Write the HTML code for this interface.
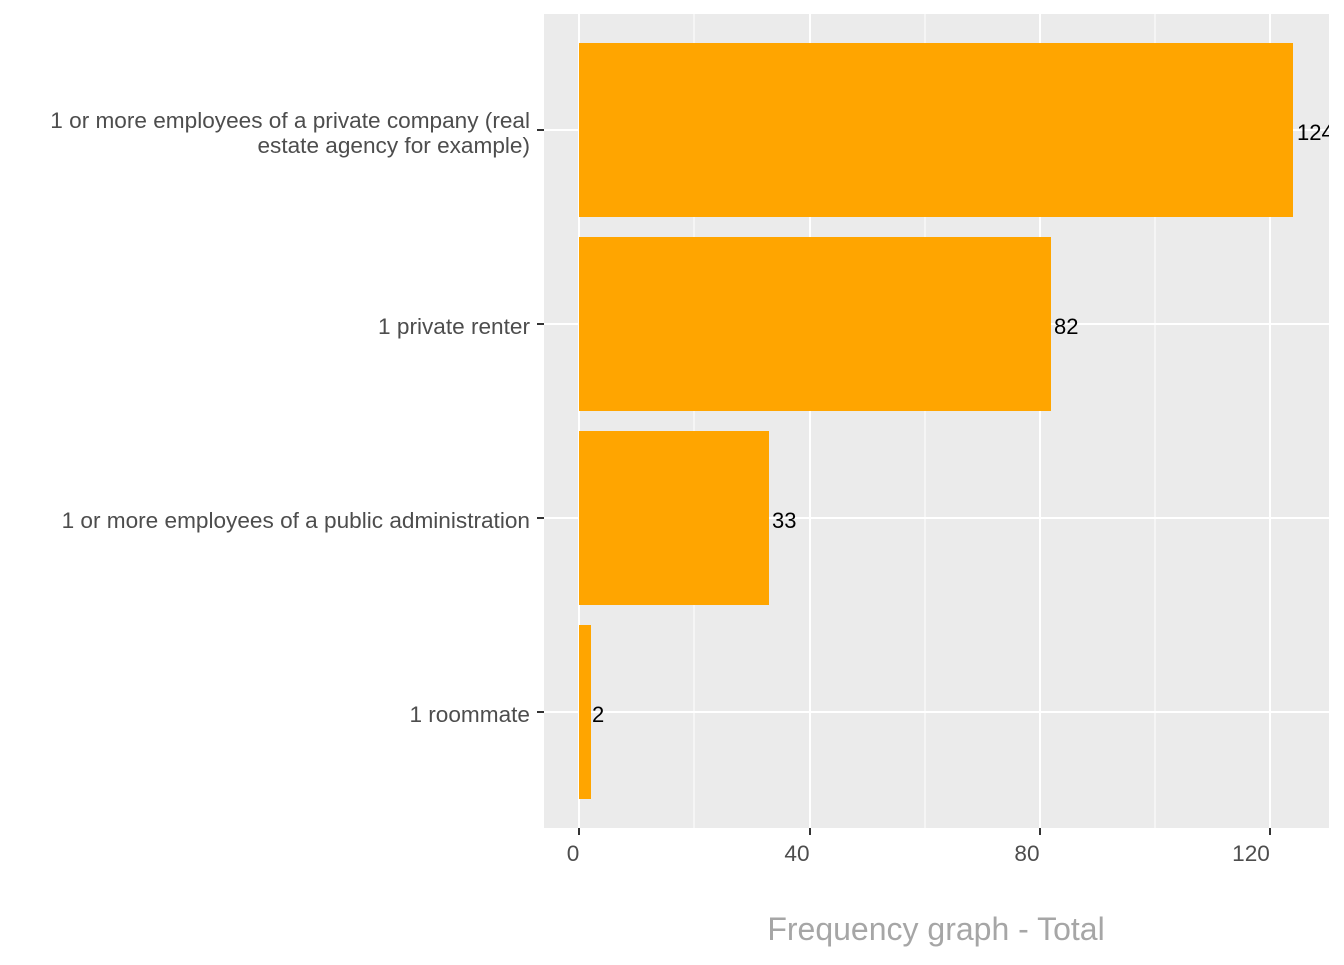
<!DOCTYPE html>
<html><head><meta charset="utf-8"><style>body{margin:0;background:#fff}</style></head><body>
<svg width="1344" height="960" xmlns="http://www.w3.org/2000/svg" font-family="Liberation Sans, Arial, sans-serif">
<defs><clipPath id="c"><rect x="544" y="14" width="785" height="814"/></clipPath></defs>
<rect x="544" y="14" width="785" height="814" fill="#ebebeb"/>
<g stroke="#fff" stroke-width="1">
<line x1="694" y1="14" x2="694" y2="828"/><line x1="925" y1="14" x2="925" y2="828"/><line x1="1155" y1="14" x2="1155" y2="828"/>
</g>
<g stroke="#fff" stroke-width="2">
<line x1="579" y1="14" x2="579" y2="828"/><line x1="810" y1="14" x2="810" y2="828"/><line x1="1040" y1="14" x2="1040" y2="828"/><line x1="1270" y1="14" x2="1270" y2="828"/>
<line x1="544" y1="130" x2="1329" y2="130"/><line x1="544" y1="324" x2="1329" y2="324"/><line x1="544" y1="518" x2="1329" y2="518"/><line x1="544" y1="712" x2="1329" y2="712"/>
</g>
<g fill="#ffa500">
<rect x="579" y="43" width="714" height="174"/>
<rect x="579" y="237" width="472" height="174"/>
<rect x="579" y="431" width="190" height="174"/>
<rect x="579" y="625" width="12" height="174"/>
</g>
<g font-size="22" fill="#000" clip-path="url(#c)">
<text x="1297" y="140">124</text><text x="1054" y="334">82</text><text x="772" y="528">33</text><text x="592" y="722">2</text>
</g>
<g stroke="#333" stroke-width="2">
<line x1="537" y1="130" x2="544" y2="130"/><line x1="537" y1="324" x2="544" y2="324"/><line x1="537" y1="518" x2="544" y2="518"/><line x1="537" y1="712" x2="544" y2="712"/>
<line x1="579" y1="828" x2="579" y2="835"/><line x1="810" y1="828" x2="810" y2="835"/><line x1="1040" y1="828" x2="1040" y2="835"/><line x1="1270" y1="828" x2="1270" y2="835"/>
</g>
<g font-size="22.6" fill="#4d4d4d" text-anchor="end">
<text x="530" y="128">1 or more employees of a private company (real</text>
<text x="530" y="153">estate agency for example)</text>
<text x="530" y="334">1 private renter</text>
<text x="530" y="528">1 or more employees of a public administration</text>
<text x="530" y="722">1 roommate</text>
</g>
<g font-size="22.6" fill="#4d4d4d" text-anchor="middle">
<text x="573" y="861">0</text><text x="797" y="861">40</text><text x="1027" y="861">80</text><text x="1251" y="861">120</text>
</g>
<text x="936" y="940" font-size="32" fill="#a6a6a6" text-anchor="middle">Frequency graph - Total</text>
</svg>
</body></html>
